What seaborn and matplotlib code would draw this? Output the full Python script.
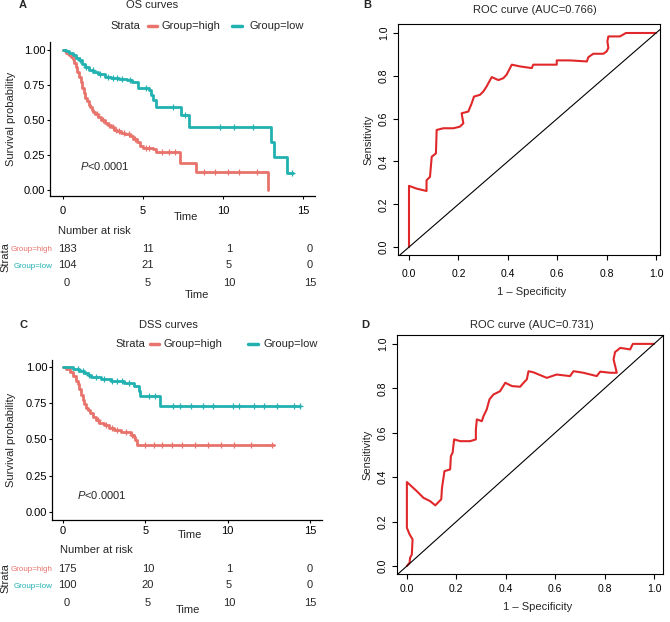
import numpy as np
import pandas as pd
import matplotlib
matplotlib.use('Agg')
import matplotlib.pyplot as plt
import seaborn as sns
from matplotlib.lines import Line2D

sns.set_style('white')
plt.rcParams['font.family'] = ['Liberation Sans', 'DejaVu Sans']
plt.rcParams['mathtext.fontset'] = 'custom'
plt.rcParams['mathtext.it'] = 'Liberation Sans:italic'
plt.rcParams['mathtext.rm'] = 'Liberation Sans'

RED = '#E8736C'
TEAL = '#22B1B1'
ROC_RED = '#E0282A'

# ---- OS Kaplan-Meier (step points: time, survival from that time on)
os_high_t = [0, 0.1, 0.2, 0.3, 0.4, 0.5, 0.6, 0.7, 0.8, 0.9, 1.0, 1.1, 1.2, 1.3, 1.4, 1.5, 1.6,
             1.7, 1.8, 1.9, 2.0, 2.2, 2.4, 2.6, 2.8, 3.0, 3.2, 3.4, 3.6, 3.9, 4.2, 4.4, 4.6,
             4.8, 5.0, 5.6, 5.8, 7.3, 8.3, 12.8]
os_high_s = [1.0, 0.99, 0.982, 0.974, 0.962, 0.952, 0.938, 0.91, 0.875, 0.845, 0.81, 0.77,
             0.725, 0.69, 0.66, 0.635, 0.61, 0.59, 0.57, 0.555, 0.54, 0.52, 0.5, 0.482, 0.465,
             0.448, 0.43, 0.418, 0.41, 0.4, 0.385, 0.362, 0.34, 0.315, 0.303, 0.29, 0.274,
             0.195, 0.131, 0.0]
os_high_cens = [2.1, 2.5, 2.9, 3.1, 3.3, 3.5, 3.8, 4.1, 4.5, 5.2, 5.4, 6.2, 6.6, 7.0, 8.8,
                9.5, 10.3, 11.0, 12.1]
os_low_t = [0, 0.2, 0.4, 0.6, 0.8, 1.0, 1.2, 1.4, 1.6, 1.9, 2.2, 2.6, 3.0, 3.5, 4.0, 4.3,
            4.7, 5.4, 5.5, 5.6, 5.8, 7.4, 7.9, 13.0, 13.2, 14.0, 14.4]
os_low_s = [1.0, 0.99, 0.975, 0.962, 0.945, 0.925, 0.9, 0.875, 0.857, 0.845, 0.825, 0.81,
            0.8, 0.795, 0.786, 0.774, 0.726, 0.714, 0.68, 0.643, 0.595, 0.536, 0.452, 0.345,
            0.238, 0.119, 0.119]
os_low_cens = [1.05, 1.45, 1.85, 2.3, 2.8, 3.1, 3.4, 3.7, 4.2, 5.2, 6.9, 7.6, 9.8, 10.7,
               11.9, 14.3]

# ---- DSS Kaplan-Meier
dss_high_t = [0, 0.2, 0.4, 0.6, 0.8, 0.9, 1.0, 1.1, 1.2, 1.3, 1.4, 1.5, 1.65, 1.8, 2.0, 2.2,
              2.5, 2.8, 3.1, 3.5, 4.1, 4.3, 4.4, 4.5, 12.8]
dss_high_s = [1.0, 0.985, 0.965, 0.94, 0.905, 0.88, 0.845, 0.81, 0.775, 0.745, 0.72, 0.7,
              0.68, 0.655, 0.635, 0.615, 0.598, 0.58, 0.565, 0.55, 0.53, 0.515, 0.495, 0.462,
              0.462]
dss_high_cens = [2.1, 2.6, 3.0, 3.3, 3.8, 4.2, 5.0, 5.5, 6.0, 6.6, 7.2, 8.0, 8.8, 9.6, 10.4,
                 11.4, 12.7]
dss_low_t = [0, 0.6, 1.0, 1.3, 1.5, 1.7, 2.3, 2.9, 3.7, 4.3, 4.6, 4.65, 5.9, 14.4]
dss_low_s = [1.0, 0.988, 0.975, 0.96, 0.945, 0.932, 0.914, 0.9, 0.888, 0.87, 0.832, 0.8,
             0.728, 0.728]
dss_low_cens = [0.9, 1.2, 1.6, 2.0, 2.5, 3.0, 3.3, 3.6, 4.0, 5.2, 5.6, 6.7, 7.1, 7.8, 8.5,
                9.1, 10.3, 10.7, 11.6, 12.2, 13.0, 14.0, 14.4]

# ---- numbers at risk at times 0, 5, 10, 15
risk_times = [0, 5, 10, 15]
os_risk_high = [183, 11, 1, 0]
os_risk_low = [104, 21, 5, 0]
dss_risk_high = [175, 10, 1, 0]
dss_risk_low = [100, 20, 5, 0]

# ---- ROC curves
roc_b_fpr = [0, 0, 0.031, 0.071, 0.071, 0.085, 0.092, 0.109, 0.112, 0.139, 0.18, 0.206, 0.22,
             0.213, 0.24, 0.254, 0.263, 0.287, 0.301, 0.314, 0.335, 0.362, 0.382, 0.395, 0.416,
             0.449, 0.497, 0.503, 0.557, 0.598, 0.598, 0.652, 0.72, 0.726, 0.746, 0.787, 0.8,
             0.807, 0.803, 0.807, 0.854, 0.878, 1.0]
roc_b_tpr = [0, 0.286, 0.273, 0.262, 0.312, 0.328, 0.422, 0.4375, 0.547, 0.555, 0.555, 0.5625,
             0.578, 0.625, 0.633, 0.672, 0.703, 0.711, 0.727, 0.75, 0.794, 0.78, 0.789, 0.805,
             0.852, 0.844, 0.836, 0.852, 0.852, 0.852, 0.872, 0.872, 0.867, 0.887, 0.903, 0.903,
             0.914, 0.93, 0.961, 0.984, 0.984, 1.0, 1.0]
roc_d_fpr = [0, 0.011, 0.013, 0.02, 0.023, 0.011, 0, 0, 0.04, 0.067, 0.094, 0.115, 0.128,
             0.139, 0.142, 0.152, 0.175, 0.178, 0.185, 0.191, 0.216, 0.256, 0.279, 0.279, 0.283,
             0.303, 0.31, 0.323, 0.334, 0.35, 0.377, 0.398, 0.425, 0.458, 0.472, 0.485, 0.492,
             0.512, 0.566, 0.606, 0.66, 0.674, 0.714, 0.768, 0.782, 0.822, 0.849, 0.836, 0.842,
             0.863, 0.903, 0.914, 0.957, 1.0]
roc_d_tpr = [0, 0.015, 0.037, 0.052, 0.12, 0.142, 0.172, 0.378, 0.337, 0.307, 0.292, 0.273,
             0.288, 0.3, 0.352, 0.427, 0.435, 0.495, 0.51, 0.57, 0.562, 0.562, 0.57, 0.615, 0.66,
             0.652, 0.675, 0.705, 0.75, 0.772, 0.787, 0.825, 0.81, 0.807, 0.825, 0.84, 0.877,
             0.872, 0.847, 0.862, 0.855, 0.877, 0.87, 0.855, 0.875, 0.87, 0.87, 0.93, 0.963,
             0.982, 0.975, 1.0, 1.0, 1.0]

W, H = 670, 622
fig = plt.figure(figsize=(W / 100, H / 100), dpi=100)
FS = 8


def box(l, t, r, b):
    return [l / W, 1 - b / H, (r - l) / W, (b - t) / H]


def ftext(x, y, s, **kw):
    fig.text(x / W, 1 - y / H, s, fontsize=kw.pop('fontsize', FS), **kw)


def step_value(times, surv, c):
    i = np.searchsorted(times, c, side='right') - 1
    return surv[i]


def km_panel(letter, title, high, low, risk_high, risk_low, lay):
    ax = fig.add_axes(box(*lay['ax']))
    for (t, s, cens), col in [(high, RED), (low, TEAL)]:
        df = pd.DataFrame({'time': t, 'surv': s})
        sns.lineplot(data=df, x='time', y='surv', ax=ax, color=col, lw=2,
                     drawstyle='steps-post', estimator=None, sort=True)
        cy = [step_value(np.array(t), np.array(s), c) for c in cens]
        ax.plot(cens, cy, ls='none', marker='+', ms=4, mew=0.9, color=col)
    ax.set_xlim(*lay['xlim'])
    ax.set_ylim(*lay['ylim'])
    ax.set_xticks([0, 5, 10, 15])
    ax.set_yticks([0, 0.25, 0.5, 0.75, 1.0])
    ax.set_yticklabels(['0.00', '0.25', '0.50', '0.75', '1.00'])
    ax.set_xlabel('')
    ax.set_ylabel('')
    for side in ['top', 'right']:
        ax.spines[side].set_visible(False)
    for side in ['left', 'bottom']:
        ax.spines[side].set_linewidth(0.9)
        ax.spines[side].set_color('black')
    ax.tick_params(axis='both', direction='out', length=2.5, width=0.8, labelsize=FS,
                   colors='black', left=True, bottom=True)
    ax.tick_params(axis='y', pad=1)
    ax.tick_params(axis='x', pad=lay['xpad'])
    ax.text(lay['p'][0], lay['p'][1], '$P$<0.0001', fontsize=FS, va='center', ha='left')

    ftext(*lay['letter'], letter, fontweight='bold', ha='center', va='center')
    ftext(*lay['title'], title, ha='center', va='center')
    ly = lay['leg_y']
    ftext(lay['leg'][0], ly, 'Strata', ha='left', va='center')
    for x0, x1, col in [(lay['leg'][1], lay['leg'][1] + 9, RED), (lay['leg'][3], lay['leg'][3] + 10, TEAL)]:
        fig.add_artist(Line2D([x0 / W, x1 / W], [1 - ly / H, 1 - ly / H], color=col, lw=2.5))
    ftext(lay['leg'][2], ly, 'Group=high', ha='left', va='center')
    ftext(lay['leg'][4], ly, 'Group=low', ha='left', va='center')
    ftext(11, (lay['ax'][1] + lay['ax'][3]) / 2, 'Survival probability', rotation=90,
          ha='center', va='center')
    ftext(*lay['time1'], 'Time', ha='center', va='center')

    # risk table
    rax = fig.add_axes(box(*lay['risk']))
    rax.set_xlim(-0.8125, 15.75)
    rax.set_ylim(-0.5, 1.5)
    for tt, nh, nl in zip(risk_times, risk_high, risk_low):
        rax.text(tt, 1, str(nh), ha='center', va='center', fontsize=FS)
        rax.text(tt, 0, str(nl), ha='center', va='center', fontsize=FS)
    rax.set_xticks(risk_times)
    rax.set_yticks([1, 0])
    rax.set_yticklabels(['Group=high', 'Group=low'])
    for lab, col in zip(rax.get_yticklabels(), [RED, TEAL]):
        lab.set_color(col)
    for sp in rax.spines.values():
        sp.set_visible(False)
    rax.tick_params(axis='both', length=0, labelsize=FS)
    rax.tick_params(axis='x', pad=3)
    rax.tick_params(axis='y', pad=1, labelsize=5.8)
    ftext(lay['nar'][0], lay['nar'][1], 'Number at risk', ha='left', va='center')
    ftext(5, lay['strata_y'], 'Strata', rotation=90, ha='center', va='center')
    ftext(*lay['time2'], 'Time', ha='center', va='center')


def roc_panel(letter, title, fpr, tpr, lay):
    ax = fig.add_axes(box(*lay['ax']))
    df = pd.DataFrame({'fpr': fpr, 'tpr': tpr})
    sns.lineplot(data=df, x='fpr', y='tpr', ax=ax, color=ROC_RED, lw=1.5,
                 sort=False, estimator=None)
    ax.axline((0, 0), (1, 1), color='black', lw=0.8)
    ax.set_xlim(*lay['xlim'])
    ax.set_ylim(*lay['ylim'])
    ticks = [0, 0.2, 0.4, 0.6, 0.8, 1.0]
    ax.set_xticks(ticks)
    ax.set_yticks(ticks)
    ax.set_xticklabels(['0.0', '0.2', '0.4', '0.6', '0.8', '1.0'])
    ax.set_yticklabels(['0.0', '0.2', '0.4', '0.6', '0.8', '1.0'], rotation=90, va='center')
    ax.set_xlabel('')
    ax.set_ylabel('')
    for sp in ax.spines.values():
        sp.set_visible(True)
        sp.set_color('black')
        sp.set_linewidth(0.8)
    ax.tick_params(axis='both', direction='out', length=3.5, width=0.8, labelsize=7.5,
                   colors='black', left=True, bottom=True)
    ax.tick_params(axis='x', pad=lay['xpad'])
    ax.tick_params(axis='y', pad=3)
    l, t, r, b = lay['ax']
    ftext(*lay['letter'], letter, fontweight='bold', ha='center', va='center')
    ftext(lay['title_x'], lay['title_y'], title, ha='center', va='center')
    ftext(lay['ylab_x'], (t + b) / 2, 'Sensitivity', rotation=90, ha='center', va='center')
    ftext(lay['xlab'][0], lay['xlab'][1], '1 \u2013 Specificity', ha='center', va='center')


km_panel('A', 'OS curves',
         (os_high_t, os_high_s, os_high_cens), (os_low_t, os_low_s, os_low_cens),
         os_risk_high, os_risk_low,
         dict(ax=(50, 42, 315, 196), xlim=(-0.8125, 15.75), ylim=(-0.043, 1.057),
              p=(1.06, 0.174), letter=(23, 5), title=(152, 5), leg_y=26,
              leg=(110, 148, 162, 232, 249), time1=(186, 217), xpad=5,
              risk=(54, 240, 322, 274), nar=(58, 231), strata_y=257, time2=(197, 295)))

km_panel('C', 'DSS curves',
         (dss_high_t, dss_high_s, dss_high_cens), (dss_low_t, dss_low_s, dss_low_cens),
         dss_risk_high, dss_risk_low,
         dict(ax=(52, 360, 322, 520), xlim=(-0.67, 15.73), ylim=(-0.055, 1.048),
              p=(0.85, 0.117), letter=(23, 325), title=(168, 325), leg_y=344,
              leg=(115, 150, 164, 248, 263), time1=(190, 535), xpad=1.5,
              risk=(54, 560, 322, 594), nar=(60, 550), strata_y=578, time2=(188, 610)))

roc_panel('B', 'ROC curve (AUC=0.766)', roc_b_fpr, roc_b_tpr,
          dict(ax=(398, 24, 660, 255), xlim=(-0.0445, 1.016), ylim=(-0.037, 1.042),
               letter=(367, 5), title_x=535, title_y=10, ylab_x=368, xlab=(532, 292),
               xpad=6.5))

roc_panel('D', 'ROC curve (AUC=0.731)', roc_d_fpr, roc_d_tpr,
          dict(ax=(397, 335, 663, 574), xlim=(-0.04, 1.036), ylim=(-0.036, 1.04),
               letter=(365, 325), title_x=532, title_y=325, ylab_x=367, xlab=(538, 607),
               xpad=3.5))

fig.savefig('out.png', dpi=100)
